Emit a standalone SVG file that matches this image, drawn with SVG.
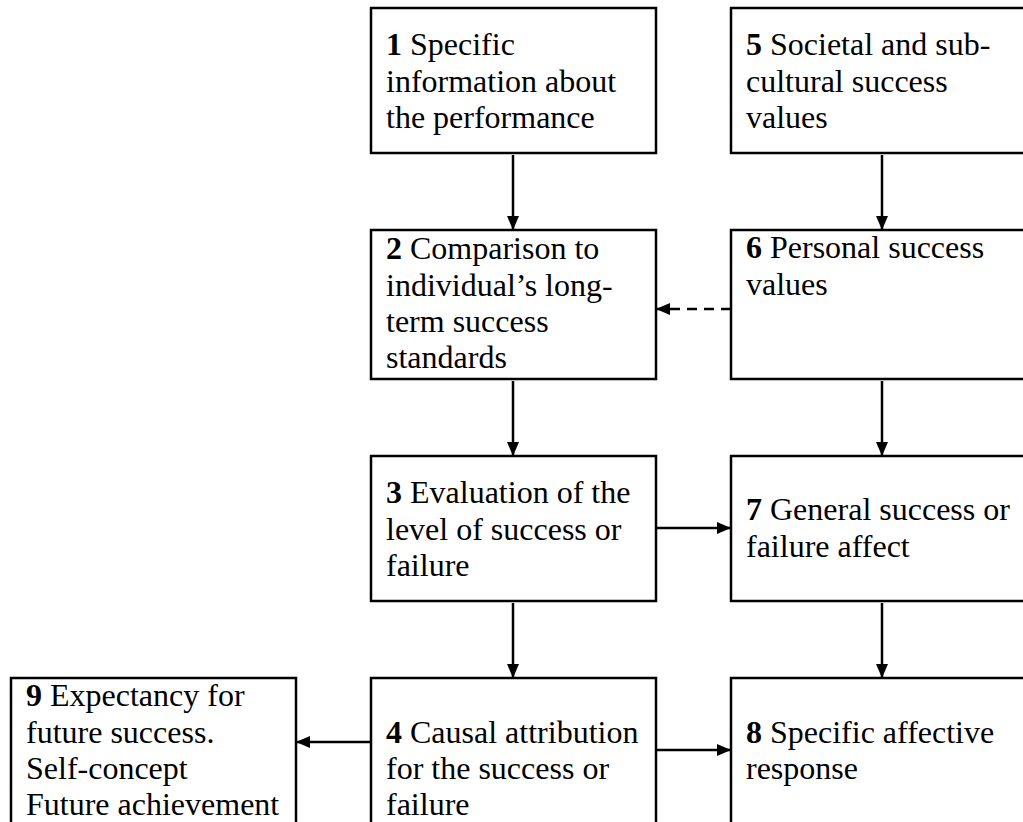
<svg xmlns="http://www.w3.org/2000/svg" width="1023" height="822" viewBox="0 0 1023 822">
<style>
.box{fill:#fff;stroke:#000;stroke-width:2.5}
.t{font-family:"Liberation Serif","Times New Roman",serif;font-size:32px;fill:#000}
.b{font-weight:bold}
.c{stroke:#000;stroke-width:2.5;fill:none}
.d{stroke-dasharray:10,7}
</style>
<defs>
<marker id="ah" markerWidth="14" markerHeight="12" refX="13" refY="6" orient="auto" markerUnits="userSpaceOnUse">
<path d="M0,0 L14,6 L0,12 Z" fill="#000"/>
</marker>
</defs>
<rect width="1023" height="822" fill="#fff"/>
<g id="connectors">
<line class="c" x1="513" y1="155" x2="513" y2="229" marker-end="url(#ah)"/>
<line class="c" x1="882" y1="155" x2="882" y2="229" marker-end="url(#ah)"/>
<line class="c d" x1="731" y1="309" x2="657" y2="309" marker-end="url(#ah)"/>
<line class="c" x1="513" y1="381" x2="513" y2="455" marker-end="url(#ah)"/>
<line class="c" x1="882" y1="381" x2="882" y2="455" marker-end="url(#ah)"/>
<line class="c" x1="657" y1="528" x2="730" y2="528" marker-end="url(#ah)"/>
<line class="c" x1="513" y1="603" x2="513" y2="677" marker-end="url(#ah)"/>
<line class="c" x1="882" y1="603" x2="882" y2="677" marker-end="url(#ah)"/>
<line class="c" x1="371" y1="742" x2="297" y2="742" marker-end="url(#ah)"/>
<line class="c" x1="657" y1="750" x2="730" y2="750" marker-end="url(#ah)"/>
</g>
<g id="node1">
<rect class="box" x="371" y="8" width="285" height="145"/>
<text class="t" x="386" y="55"><tspan class="b">1</tspan> Specific</text>
<text class="t" x="386" y="92">information about</text>
<text class="t" x="386" y="128">the performance</text>
</g>
<g id="node5">
<rect class="box" x="731" y="8" width="300" height="145"/>
<text class="t" x="746" y="55"><tspan class="b">5</tspan> Societal and sub-</text>
<text class="t" x="746" y="92">cultural success</text>
<text class="t" x="746" y="128">values</text>
</g>
<g id="node2">
<rect class="box" x="371" y="230" width="285" height="149"/>
<text class="t" x="386" y="259"><tspan class="b">2</tspan> Comparison to</text>
<text class="t" x="386" y="296">individual’s long-</text>
<text class="t" x="386" y="332">term success</text>
<text class="t" x="386" y="368">standards</text>
</g>
<g id="node6">
<rect class="box" x="731" y="230" width="300" height="149"/>
<text class="t" x="746" y="258"><tspan class="b">6</tspan> Personal success</text>
<text class="t" x="746" y="295">values</text>
</g>
<g id="node3">
<rect class="box" x="371" y="456" width="285" height="145"/>
<text class="t" x="386" y="503"><tspan class="b">3</tspan> Evaluation of the</text>
<text class="t" x="386" y="540">level of success or</text>
<text class="t" x="386" y="576">failure</text>
</g>
<g id="node7">
<rect class="box" x="731" y="456" width="300" height="145"/>
<text class="t" x="746" y="520"><tspan class="b">7</tspan> General success or</text>
<text class="t" x="746" y="557">failure affect</text>
</g>
<g id="node9">
<rect class="box" x="11" y="678" width="285" height="160"/>
<text class="t" x="26" y="706"><tspan class="b">9</tspan> Expectancy for</text>
<text class="t" x="26" y="743">future success.</text>
<text class="t" x="26" y="779">Self-concept</text>
<text class="t" x="26" y="815">Future achievement</text>
</g>
<g id="node4">
<rect class="box" x="371" y="678" width="285" height="160"/>
<text class="t" x="386" y="743"><tspan class="b">4</tspan> Causal attribution</text>
<text class="t" x="386" y="779">for the success or</text>
<text class="t" x="386" y="815">failure</text>
</g>
<g id="node8">
<rect class="box" x="731" y="678" width="300" height="160"/>
<text class="t" x="746" y="743"><tspan class="b">8</tspan> Specific affective</text>
<text class="t" x="746" y="779">response</text>
</g>
</svg>
